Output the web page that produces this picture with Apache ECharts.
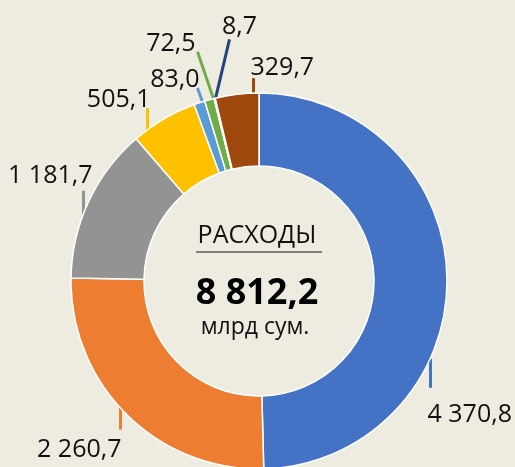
<!DOCTYPE html>
<html>
<head>
<meta charset="utf-8">
<script src="https://cdn.jsdelivr.net/npm/echarts@6/dist/echarts.min.js"></script>
<style>
  html, body { margin: 0; padding: 0; background: #eeece1; }
  #chart { width: 515px; height: 467px; }
</style>
</head>
<body>
<div id="chart"></div>
<script>
// Expenditure structure, bln sum
const categories = ['Статья 1', 'Статья 2', 'Статья 3', 'Статья 4', 'Статья 5', 'Статья 6', 'Статья 7', 'Статья 8'];
const values = [4370.8, 2260.7, 1181.7, 505.1, 83.0, 72.5, 8.7, 329.7];
const colors = ['#4472c4', '#ed7d31', '#939393', '#ffc000', '#5b9bd5', '#70ad47', '#264478', '#9e480e'];
const centerTitle = 'РАСХОДЫ';
const centerUnit = 'млрд сум.';

// Donut geometry (px)
const CX = 259, CY = 281, R_IN = 115, R_OUT = 188;

// Leader line placement per slice: where on the outer arc the line starts
// (fraction of the slice), how far it reaches back into the slice, the line
// vector, and the text offset from the line end.
const labelPlacement = [
  { at: 0.641, back: 0,  line: [0, 29],    text: [-3, 27],  align: 'left' },
  { at: 0.532, back: 14, line: [0, 22],    text: [1, 20],   align: 'right' },
  { at: 0.408, back: 0,  line: [0, -24],   text: [9, -15],  align: 'right' },
  { at: 0.204, back: 0,  line: [0, -22],   text: [3, -8],   align: 'right' },
  { at: 0.71,  back: 0,  line: [-5, -14],  text: [2, -8],   align: 'right' },
  { at: 0.85,  back: 0,  line: [-16, -47], text: [-2, -8],  align: 'right' },
  { at: 0.5,   back: 0,  line: [14, -59],  text: [10, -12], align: 'center' },
  { at: 0.864, back: 0,  line: [0, -15],   text: [-3, -10], align: 'left' }
];

function fmt(v) {
  const parts = v.toFixed(1).split('.');
  return parts[0].replace(/\B(?=(\d{3})+(?!\d))/g, ' ') + ',' + parts[1];
}

const total = values.reduce((a, b) => a + b, 0);

// Angle (deg, clockwise from 12 o'clock) where each slice begins
const startAngles = [];
values.reduce((acc, v) => { startAngles.push(acc / total * 360); return acc + v; }, 0);

const FONT = '"Open Sans", "Noto Sans", sans-serif';

const chart = echarts.init(document.getElementById('chart'), null, { renderer: 'canvas' });
chart.setOption({
  backgroundColor: '#eeece1',
  animation: false,
  series: [{
    type: 'pie',
    center: [CX, CY],
    radius: [R_IN, R_OUT],
    startAngle: 90,
    clockwise: true,
    avoidLabelOverlap: false,
    itemStyle: { borderColor: '#ffffff', borderWidth: 1.5 },
    label: {
      show: true,
      position: 'outside',
      color: '#111111',
      fontFamily: FONT,
      fontSize: 25,
      formatter: p => fmt(p.value)
    },
    labelLine: { show: true, length: 10, length2: 0, lineStyle: { width: 3 } },
    labelLayout: function (params) {
      const i = params.dataIndex;
      const pl = labelPlacement[i];
      const span = values[i] / total * 360;
      const a = (startAngles[i] + pl.at * span) * Math.PI / 180;
      const ax = Math.round(CX + R_OUT * Math.sin(a)) + 0.5;
      const ay = CY - R_OUT * Math.cos(a);
      const ex = ax + pl.line[0];
      const ey = ay + pl.line[1];
      const len = Math.hypot(pl.line[0], pl.line[1]);
      const sx = ax - pl.back * pl.line[0] / len;
      const sy = ay - pl.back * pl.line[1] / len;
      return {
        x: ex + pl.text[0],
        y: ey + pl.text[1],
        align: pl.align,
        verticalAlign: 'middle',
        labelLinePoints: [[sx, sy], [ex, ey]]
      };
    },
    emphasis: { disabled: true },
    data: values.map((v, i) => ({
      name: categories[i],
      value: v,
      itemStyle: { color: colors[i] },
      labelLine: { lineStyle: { color: colors[i], width: 3 } }
    }))
  }],
  graphic: [
    {
      type: 'text', x: CX - 2, y: CY - 45,
      style: { text: centerTitle, font: '25px ' + FONT, fill: '#111111', align: 'center', verticalAlign: 'middle' }
    },
    {
      type: 'line',
      shape: { x1: CX - 63, y1: CY - 29, x2: CX + 63, y2: CY - 29 },
      style: { stroke: '#111111', lineWidth: 1 }
    },
    {
      type: 'text', x: CX - 2, y: CY + 13,
      style: { text: fmt(total), font: 'bold 36px ' + FONT, fill: '#000000', align: 'center', verticalAlign: 'middle' }
    },
    {
      type: 'text', x: CX - 4, y: CY + 46,
      style: { text: centerUnit, font: '23px ' + FONT, fill: '#111111', align: 'center', verticalAlign: 'middle' }
    }
  ]
});
</script>
</body>
</html>
